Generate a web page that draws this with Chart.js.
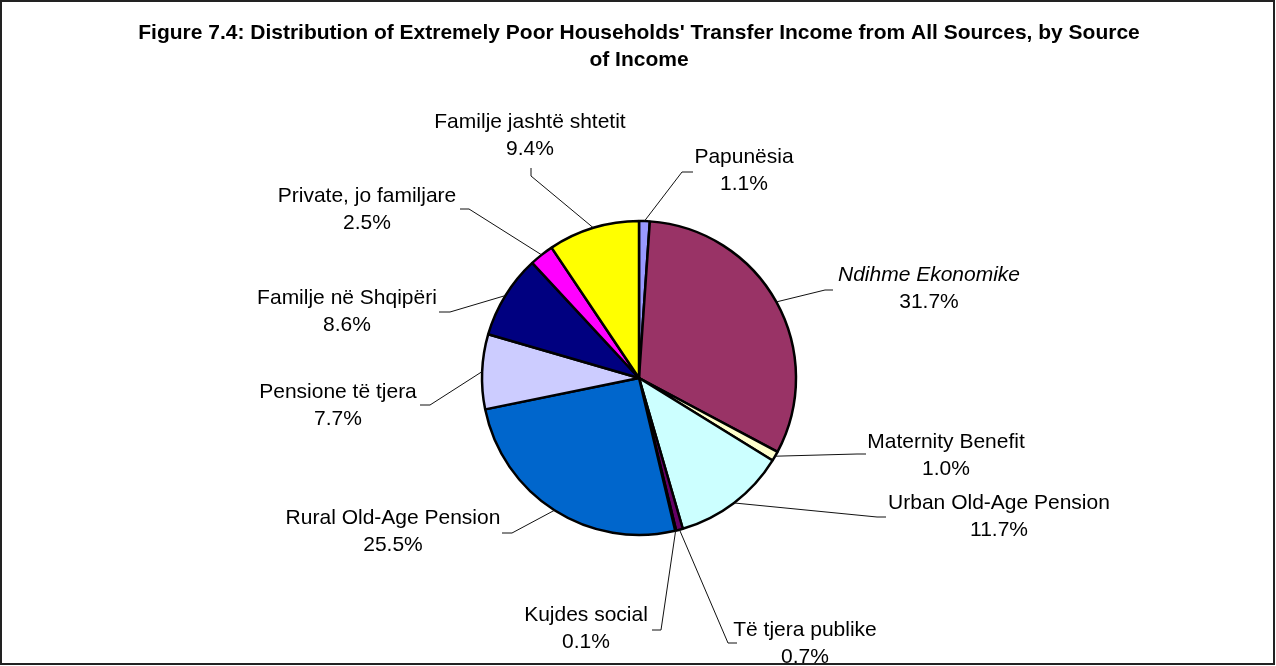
<!DOCTYPE html>
<html>
<head>
<meta charset="utf-8">
<title>Figure 7.4</title>
<script src="https://cdn.jsdelivr.net/npm/chart.js"></script>
<style>
  html, body { margin: 0; padding: 0; background: #fff; }
  #wrap { position: relative; width: 1276px; height: 666px; }
</style>
</head>
<body>
<div id="wrap"><canvas id="pie" width="1276" height="666"></canvas></div>
<script>
// data (clockwise from 12 o'clock)
const categories = [
  'Papunësia', 'Ndihme Ekonomike', 'Maternity Benefit', 'Urban Old-Age Pension',
  'Të tjera publike', 'Kujdes social', 'Rural Old-Age Pension', 'Pensione të tjera',
  'Familje në Shqipëri', 'Private, jo familjare', 'Familje jashtë shtetit'
];
const shares = [1.1, 31.7, 1.0, 11.7, 0.7, 0.1, 25.5, 7.7, 8.6, 2.5, 9.4];
const sliceColors = [
  '#9999FF', '#993366', '#FFFFCC', '#CCFFFF', '#660066', '#FF8080',
  '#0066CC', '#CCCCFF', '#000080', '#FF00FF', '#FFFF00'
];
const titleLines = [
  "Figure 7.4: Distribution of Extremely Poor Households' Transfer Income from All Sources, by Source",
  'of Income'
];
const italicLabels = ['Ndihme Ekonomike'];

// where each label sits: text centre x, first line y, leader elbow and end
const labelLayout = [
  { tx: 744, ty: 157, elbow: [682, 172], end: [693, 172] },
  { tx: 929, ty: 275, elbow: [825, 290], end: [833, 290] },
  { tx: 946, ty: 442, elbow: [857, 454], end: [866, 454] },
  { tx: 999, ty: 503, elbow: [877, 517], end: [886, 517] },
  { tx: 805, ty: 630, elbow: [728, 643], end: [737, 643] },
  { tx: 586, ty: 615, elbow: [661, 630], end: [652, 630] },
  { tx: 393, ty: 518, elbow: [512, 533], end: [502, 533] },
  { tx: 338, ty: 392, elbow: [430, 405], end: [420, 405] },
  { tx: 347, ty: 298, elbow: [450, 312], end: [439, 312] },
  { tx: 367, ty: 196, elbow: [469, 209], end: [460, 209] },
  { tx: 530, ty: 122, elbow: [531, 176], end: [531, 168] }
];

const FONT = '"Liberation Sans", Arial, Helvetica, sans-serif';
const LABEL_SIZE = 21;
const LINE_GAP = 27;

// frame + title behind the pie
const framePlugin = {
  id: 'frame',
  beforeDraw(chart) {
    const ctx = chart.ctx;
    ctx.save();
    ctx.fillStyle = '#fff';
    ctx.fillRect(0, 0, chart.width, chart.height);
    ctx.strokeStyle = '#222';
    ctx.lineWidth = 2;
    ctx.strokeRect(1, 1, chart.width - 3, chart.height - 3);

    ctx.fillStyle = '#000';
    ctx.font = 'bold 21px ' + FONT;
    ctx.textAlign = 'center';
    ctx.textBaseline = 'middle';
    ctx.fillText(titleLines[0], 639, 33);
    ctx.fillText(titleLines[1], 639, 60);
    ctx.restore();
  }
};

// leader lines and two-line labels
const labelPlugin = {
  id: 'sliceLabels',
  afterDatasetsDraw(chart) {
    const ctx = chart.ctx;
    const arcs = chart.getDatasetMeta(0).data;
    ctx.save();
    arcs.forEach((arc, i) => {
      const p = arc.getProps(['x', 'y', 'startAngle', 'endAngle', 'outerRadius'], true);
      const mid = (p.startAngle + p.endAngle) / 2;
      const sx = p.x + Math.cos(mid) * p.outerRadius;
      const sy = p.y + Math.sin(mid) * p.outerRadius;
      const lay = labelLayout[i];

      ctx.strokeStyle = '#111';
      ctx.lineWidth = 1;
      ctx.beginPath();
      ctx.moveTo(sx, sy);
      ctx.lineTo(lay.elbow[0], lay.elbow[1]);
      ctx.lineTo(lay.end[0], lay.end[1]);
      ctx.stroke();

      ctx.fillStyle = '#000';
      ctx.textAlign = 'center';
      ctx.textBaseline = 'middle';
      const italic = italicLabels.includes(categories[i]) ? 'italic ' : '';
      ctx.font = italic + LABEL_SIZE + 'px ' + FONT;
      ctx.fillText(categories[i], lay.tx, lay.ty);
      ctx.font = LABEL_SIZE + 'px ' + FONT;
      ctx.fillText(shares[i].toFixed(1) + '%', lay.tx, lay.ty + LINE_GAP);
    });
    ctx.restore();
  }
};

new Chart(document.getElementById('pie'), {
  type: 'pie',
  data: {
    labels: categories,
    datasets: [{
      data: shares,
      backgroundColor: sliceColors,
      borderColor: '#000',
      borderWidth: 2.5,
      radius: 157
    }]
  },
  options: {
    responsive: false,
    animation: false,
    layout: { padding: { left: 201, right: 199, top: 200, bottom: 110 } },
    plugins: {
      legend: { display: false },
      tooltip: { enabled: false },
      title: { display: false }
    }
  },
  plugins: [framePlugin, labelPlugin]
});
</script>
</body>
</html>
